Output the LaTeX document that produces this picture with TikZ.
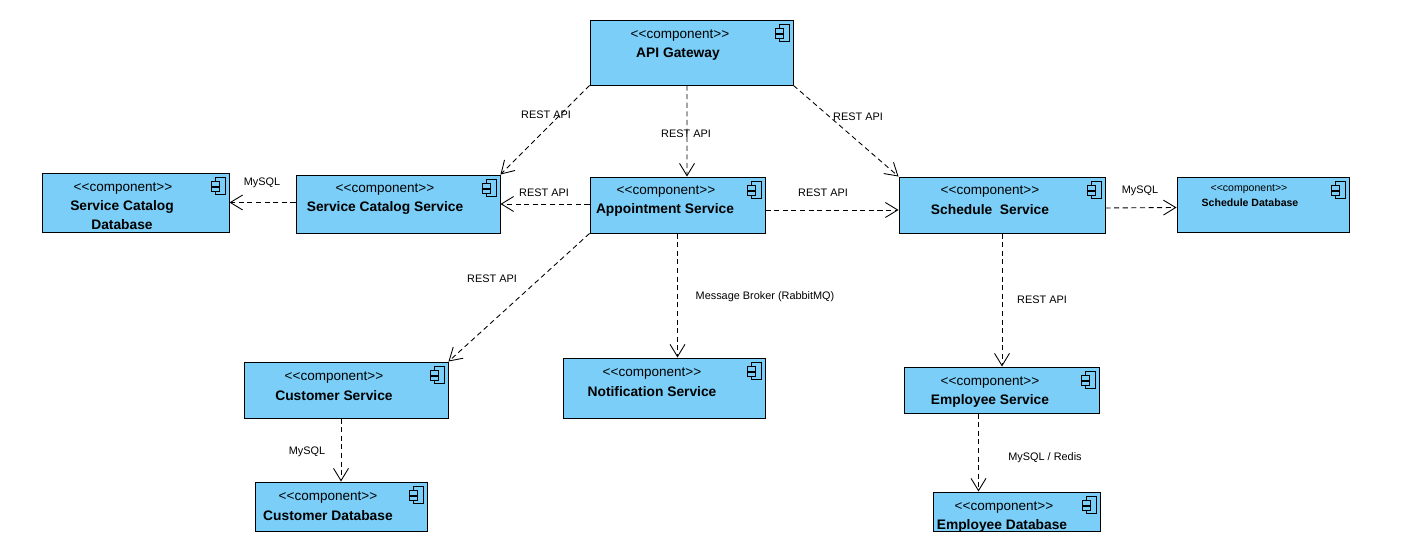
\documentclass[tikz,border=0pt]{standalone}
\usepackage{fontspec}
\setmainfont{Liberation Sans}
\usetikzlibrary{arrows.meta,fit}
\definecolor{compblue}{HTML}{7ACEF7}
\tikzset{
  compbox/.style={draw=black, fill=compblue, line width=0.55pt, inner sep=0pt},
  stereo/.style={font=\fontsize{7.7}{9}\selectfont, text=black},
  compname/.style={font=\fontsize{7.85}{10.8}\selectfont\bfseries, text=black, align=center},
  linklabel/.style={font=\fontsize{6.2}{7}\selectfont, text=black},
  link/.style={draw=black, line width=0.5pt, dash pattern=on 2.9pt off 2pt, -{Straight Barb[length=7pt,width=8.5pt]}},
  pics/compicon/.style={code={
    \draw[black, line width=0.45pt] (-3,-8.5) rectangle (6.5,8.5);
    \draw[black, fill=compblue, line width=0.45pt] (-7,-4.5) rectangle (0.5,0.5);
    \draw[black, fill=compblue, line width=0.45pt] (-7,1.5) rectangle (0.5,6);
  }}
}
\begin{document}
\begin{tikzpicture}[x=0.02cm,y=-0.02cm]
    \useasboundingbox (0,0) rectangle (1406,553);
    % Boxes
    \foreach \name/\xa/\ya/\xb/\yb in {api/590/20/793/85, catdb/42/173/229/232, catalog/296/175/500/233,
        appt/590/177/765/233, sched/899/177/1105/233, scheddb/1177/177/1349/232,
        cust/244/362/448/418, notif/563/358/765/418, emp/904/367/1099/413,
        custdb/255/482/427/531, empdb/933/492/1100/531}
    {
        \node[compbox, fit={(\xa,\ya) (\xb,\yb)}] (\name) {};
        \pic at ([shift={(-11,13)}]\name.north east) {compicon};
    }
    % Stereotypes
    \foreach \name/\x/\y in {api/680/36, catdb/123/189, catalog/385/190, appt/666/192, sched/990/192,
        cust/334/378, notif/652/374, emp/990/383, custdb/328/498, empdb/1004/508}
        \node[stereo] (\name-st) at (\x,\y) {<{}<component>{}>};
    \node[stereo, font=\fontsize{6}{7}\selectfont] (scheddb-st) at (1249,189) {<{}<component>{}>};
    % Names
    \node[compname] (api-nm) at (678,54) {API Gateway};
    \node[compname] (catdb-nm) at (122,215) {Service Catalog\\Database};
    \node[compname] (catalog-nm) at (385,208) {Service Catalog Service};
    \node[compname] (appt-nm) at (665,210) {Appointment Service};
    \node[compname] (sched-nm) at (990,210) {Schedule\ \ Service};
    \node[compname, font=\fontsize{6}{7}\selectfont\bfseries] (scheddb-nm) at (1250,203) {Schedule Database};
    \node[compname] (cust-nm) at (334,396) {Customer Service};
    \node[compname] (notif-nm) at (652,392) {Notification Service};
    \node[compname] (emp-nm) at (990,401) {Employee Service};
    \node[compname] (custdb-nm) at (328,516) {Customer Database};
    \node[compname] (empdb-nm) at (1002,526) {Employee Database};
    % Connectors
    \draw[link] (api.south west) -- (catalog.north east);
    \draw[link] ([xshift=-0.09cm]api.south) -- ([xshift=0.19cm]appt.north);
    \draw[link] (api.south east) -- (sched.north west);
    \draw[link] (catalog.west |- catdb.east) -- (catdb.east);
    \draw[link] (appt.west |- catalog.east) -- (catalog.east);
    \draw[link] ([yshift=-0.1cm]appt.east) -- ([yshift=-0.1cm]sched.west);
    \draw[link] ([yshift=-0.06cm]sched.east) -- ([yshift=-0.06cm]scheddb.west);
    \draw[link] (appt.south west) -- (cust.north east);
    \draw[link] (appt.south) -- (appt.south |- notif.north);
    \draw[link] (sched.south) -- (sched.south |- emp.north);
    \draw[link] (custdb.north |- cust.south) -- (custdb.north);
    \draw[link] ([xshift=-0.46cm]emp.south) -- ([xshift=-0.46cm]emp.south |- empdb.north);
    % Labels
    \foreach \name/\x/\y/\txt in {la/546/115/REST API, lb/686/134/REST API, lc/858/117/REST API,
        ld/544/193/REST API, le/823/193/REST API, lf/492/279/REST API, lg/1042/300/REST API,
        lh/262/183/MySQL, li/1140/191/MySQL, lj/307/452/MySQL,
        lk/765/297/Message Broker (RabbitMQ), ll/1045/458/{MySQL / Redis}}
        \node[linklabel] (\name) at (\x,\y) {\txt};
\end{tikzpicture}
\end{document}
